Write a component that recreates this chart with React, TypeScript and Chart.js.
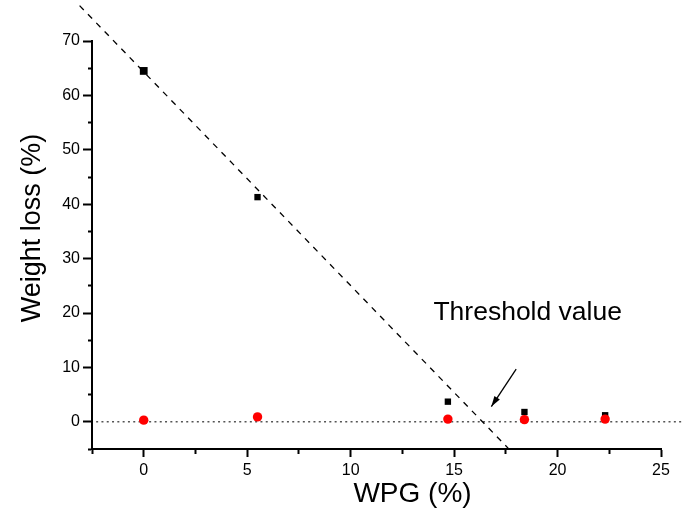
import React, { useEffect, useRef } from "react";
import { Chart, registerables } from "chart.js";

Chart.register(...registerables);

// WPG (%) values of the samples
const wpg = [0, 5.5, 14.7, 18.4, 22.3];
// Weight loss (%) – first series (black squares)
const lossBlack = [64.5, 41.3, 3.7, 1.8, 1.2];
// Weight loss (%) – second series (red circles)
const lossRed = [0.3, 0.9, 0.5, 0.4, 0.5];
// Dashed fit line end points
const fitX = [-3.1, 17.8];
const fitY = [76.5, -5.6];
// Zero reference (dotted) line
const zeroX = [-2.3, 26.1];
const zeroY = [0, 0];
// Annotation: threshold label and arrow (data coords)
const thresholdLabel = "Threshold value";
const labelPos = [14.0, 20.0];
const arrowFrom = [18.0, 9.7];
const arrowTo = [16.8, 2.8];

const xTitle = "WPG (%)";
const yTitle = "Weight loss (%)";

const FONT = "'Liberation Sans', Arial, sans-serif";

const annotationPlugin = {
  id: "thresholdAnnotation",
  afterDatasetsDraw(chart: any) {
    const { ctx, scales } = chart;
    const xs = scales.x;
    const ys = scales.y;
    ctx.save();
    ctx.fillStyle = "#000";
    ctx.font = `26.5px ${FONT}`;
    ctx.textAlign = "left";
    ctx.textBaseline = "middle";
    ctx.fillText(thresholdLabel, xs.getPixelForValue(labelPos[0]), ys.getPixelForValue(labelPos[1]));

    const x1 = xs.getPixelForValue(arrowFrom[0]);
    const y1 = ys.getPixelForValue(arrowFrom[1]);
    const x2 = xs.getPixelForValue(arrowTo[0]);
    const y2 = ys.getPixelForValue(arrowTo[1]);
    ctx.strokeStyle = "#000";
    ctx.lineWidth = 1.3;
    ctx.beginPath();
    ctx.moveTo(x1, y1);
    ctx.lineTo(x2, y2);
    ctx.stroke();
    const ang = Math.atan2(y2 - y1, x2 - x1);
    const len = 11;
    const spread = 0.3;
    ctx.beginPath();
    ctx.moveTo(x2, y2);
    ctx.lineTo(x2 - len * Math.cos(ang - spread), y2 - len * Math.sin(ang - spread));
    ctx.lineTo(x2 - len * Math.cos(ang + spread), y2 - len * Math.sin(ang + spread));
    ctx.closePath();
    ctx.fill();

    // Axis titles
    const area = chart.chartArea;
    ctx.font = `28px ${FONT}`;
    ctx.textAlign = "center";
    ctx.textBaseline = "middle";
    ctx.fillText(xTitle, (area.left + area.right) / 2 + 36, 494);
    ctx.font = `27px ${FONT}`;
    ctx.translate(33, (area.top + area.bottom) / 2 - 17);
    ctx.rotate(-Math.PI / 2);
    ctx.fillText(yTitle, 0, 0);
    ctx.restore();
  },
};

// minor tick marks: short dash next to the axis line
const minorDash = (major: number, pattern: number[]) => (c: any) =>
  c.tick && Math.abs(c.tick.value % major) > 1e-6 ? pattern : [];

export default function App() {
  const ref = useRef<HTMLCanvasElement | null>(null);
  useEffect(() => {
    if (!ref.current) return;
    const chart = new Chart(ref.current, {
      type: "scatter",
      data: {
        datasets: [
          {
            label: "red",
            data: wpg.map((x, i) => ({ x, y: lossRed[i] })),
            pointStyle: "circle",
            pointRadius: 4.7,
            backgroundColor: "#ff0000",
            borderColor: "#ff0000",
            borderWidth: 0,
            order: 0,
          },
          {
            label: "black",
            data: wpg.map((x, i) => ({ x, y: lossBlack[i] })),
            pointStyle: "rect",
            pointRadius: [5.5, 4.5, 4.5, 4.5, 4.5],
            backgroundColor: "#000",
            borderColor: "#000",
            borderWidth: 0,
            order: 1,
          },
          {
            label: "fit",
            data: fitX.map((x, i) => ({ x, y: fitY[i] })),
            showLine: true,
            borderColor: "#000",
            borderWidth: 1.3,
            borderDash: [6, 6],
            pointRadius: 0,
            clip: false as any,
            order: 2,
          },
          {
            label: "zero",
            data: zeroX.map((x, i) => ({ x, y: zeroY[i] })),
            showLine: true,
            borderColor: "#555",
            borderWidth: 1.5,
            borderDash: [2, 3.3],
            pointRadius: 0,
            clip: false as any,
            order: 3,
          },
        ],
      },
      options: {
        animation: false,
        responsive: false,
        layout: { padding: { left: 0, top: 41, right: 22, bottom: 0 } },
        plugins: { legend: { display: false }, tooltip: { enabled: false } },
        scales: {
          x: {
            type: "linear",
            min: -2.5,
            max: 25,
            grid: {
              drawOnChartArea: false,
              drawTicks: true,
              tickLength: 8,
              tickColor: "#000",
              tickWidth: 2,
              tickBorderDash: minorDash(5, [4, 100]) as any,
            },
            border: { display: true, color: "#000", width: 2 },
            ticks: {
              stepSize: 2.5,
              autoSkip: false,
              maxRotation: 0,
              padding: 4,
              color: "#000",
              font: { family: FONT, size: 16 },
              callback: (v: any) => (Number(v) % 5 === 0 ? String(v) : ""),
            },
            title: { display: false, text: xTitle },
            afterFit: (s: any) => {
              s.height = 59;
            },
          },
          y: {
            type: "linear",
            min: -5,
            max: 70,
            grid: {
              drawOnChartArea: false,
              drawTicks: true,
              tickLength: 9,
              tickColor: "#000",
              tickWidth: 2,
              tickBorderDash: minorDash(10, [0, 5, 5, 100]) as any,
            },
            border: { display: true, color: "#000", width: 2 },
            ticks: {
              stepSize: 5,
              autoSkip: false,
              padding: 3,
              color: "#000",
              font: { family: FONT, size: 16 },
              callback: (v: any) => (Number(v) % 10 === 0 ? String(v) : ""),
            },
            title: { display: false, text: yTitle },
            afterFit: (s: any) => {
              s.width = 92;
            },
          },
        },
      },
      plugins: [annotationPlugin],
    });
    return () => chart.destroy();
  }, []);
  return (
    <canvas
      ref={ref}
      width={683}
      height={508}
      style={{ position: "absolute", left: 0, top: 0, width: 683, height: 508 }}
    />
  );
}
